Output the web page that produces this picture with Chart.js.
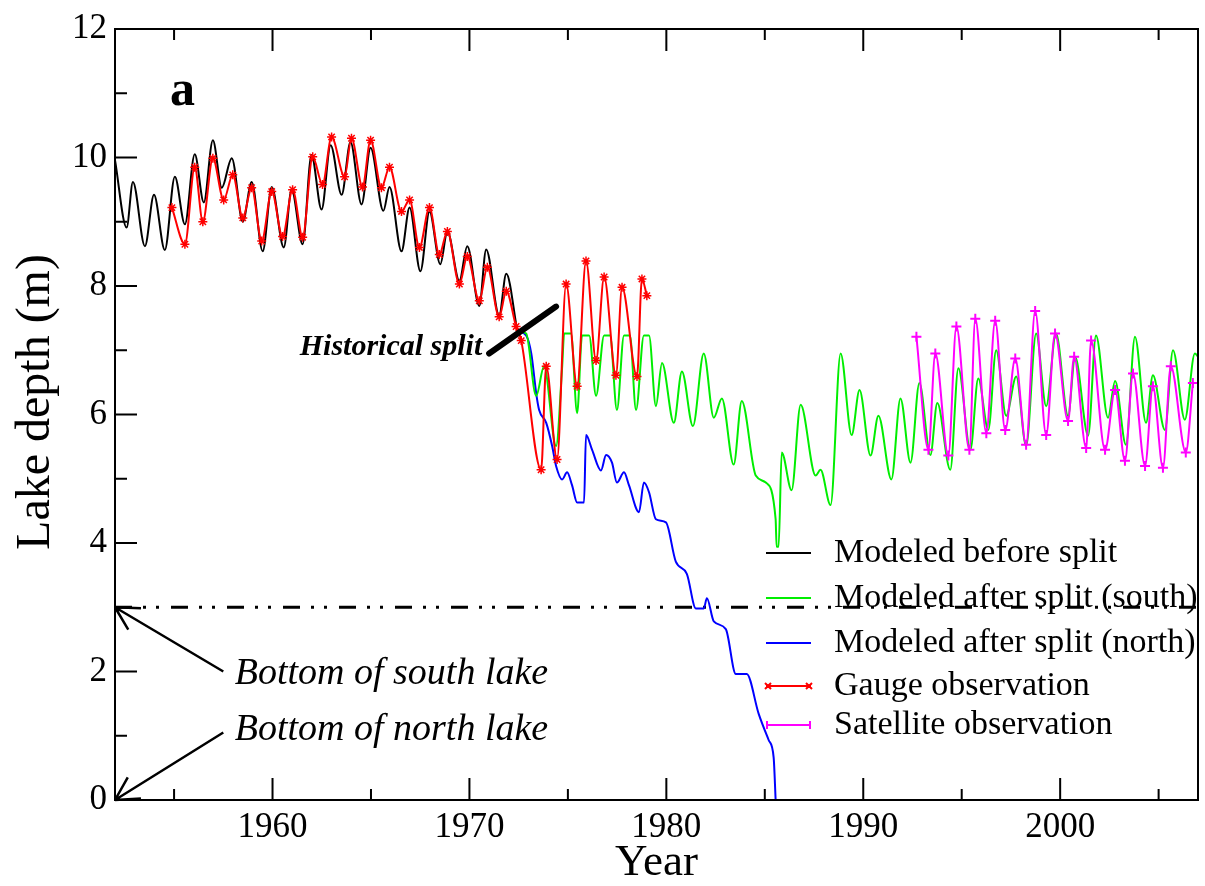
<!DOCTYPE html>
<html>
<head>
<meta charset="utf-8">
<script src="https://cdn.jsdelivr.net/npm/chart.js@4.4.1/dist/chart.umd.min.js"></script>
<style>
  html, body { margin: 0; padding: 0; background: #fff; }
</style>
</head>
<body>
<canvas id="lakeChart" width="1205" height="886"></canvas>
<script>
// axis ticks
const xTicks = [1960, 1970, 1980, 1990, 2000];
const xMinorTicks = [1955, 1965, 1975, 1985, 1995, 2005];
const yTicks = [0, 2, 4, 6, 8, 10, 12];
const yMinorTicks = [1, 3, 5, 7, 9, 11];

const seriesNames = ["Modeled before split", "Modeled after split (south)", "Modeled after split (north)",
                     "Gauge observation", "Satellite observation"];

// modeled before split (black)
const beforeYears = [1952.00, 1952.59, 1952.91, 1953.52, 1953.98, 1954.53, 1955.04, 1955.55, 1956.05, 1956.51,
  1956.97, 1957.42, 1957.93, 1958.49, 1958.94, 1959.50, 1959.96, 1960.57, 1960.97, 1961.53, 1961.98, 1962.49,
  1962.95, 1963.51, 1963.96, 1964.52, 1964.98, 1965.63, 1965.94, 1966.55, 1966.96, 1967.51, 1967.97, 1968.52,
  1968.88, 1969.49, 1969.89, 1970.50, 1970.85, 1971.51, 1971.87, 1972.43];
const beforeDepth = [9.96, 8.91, 9.62, 8.62, 9.42, 8.56, 9.70, 8.96, 10.05, 9.30,
  10.27, 9.53, 9.99, 9.00, 9.62, 8.54, 9.54, 8.60, 9.50, 8.65, 10.04, 9.19,
  10.19, 9.42, 10.24, 9.27, 10.15, 9.17, 9.54, 8.54, 9.22, 8.23, 9.16, 8.34,
  8.85, 8.08, 8.62, 7.69, 8.57, 7.54, 8.19, 7.30];

// modeled after split, south lake (green)
const southYears = [1972.43, 1972.88, 1973.39, 1973.79, 1974.40, 1974.71, 1974.81, 1975.16, 1975.47, 1975.72,
  1976.08, 1976.43, 1976.84, 1977.14, 1977.49, 1977.85, 1978.15, 1978.46, 1978.86, 1979.12, 1979.47, 1979.78,
  1980.38, 1980.79, 1981.35, 1981.90, 1982.41, 1982.82, 1983.42, 1983.83, 1984.54, 1985.05, 1985.55, 1985.60,
  1985.70, 1985.86, 1986.36, 1986.82, 1987.58, 1987.83, 1988.34, 1988.85, 1989.41, 1989.81, 1990.37, 1990.77,
  1991.43, 1991.89, 1992.40, 1992.85, 1993.41, 1993.76, 1994.42, 1994.83, 1995.44, 1995.84, 1996.35, 1996.75,
  1997.26, 1997.77, 1998.27, 1998.78, 1999.29, 1999.79, 2000.40, 2000.76, 2001.42, 2001.82, 2002.43, 2002.79,
  2003.34, 2003.80, 2004.36, 2004.71, 2005.32, 2005.73, 2006.33, 2006.84, 2007.00];
const southDepth = [7.30, 7.26, 6.29, 6.75, 5.51, 6.75, 7.26, 7.26, 6.02, 7.23,
  7.23, 6.29, 7.23, 7.23, 6.07, 7.23, 7.23, 6.07, 7.23, 7.23, 6.13, 6.80,
  5.87, 6.67, 5.82, 6.95, 5.95, 6.25, 5.22, 6.21, 5.05, 4.94, 4.37, 3.94,
  3.94, 5.41, 4.82, 6.15, 5.05, 5.14, 4.59, 6.95, 5.68, 6.38, 5.36, 5.98,
  4.99, 6.25, 5.25, 6.49, 5.37, 6.18, 5.14, 6.72, 5.45, 6.56, 5.76, 7.00,
  5.98, 6.59, 5.51, 7.26, 6.13, 7.26, 5.98, 6.90, 5.67, 7.23, 5.95, 6.52,
  5.53, 7.21, 5.87, 6.61, 5.76, 7.00, 5.92, 6.95, 6.90];

// modeled after split, north lake (blue)
const northYears = [1972.43, 1972.88, 1973.14, 1973.39, 1973.54, 1973.90, 1974.20, 1974.40, 1974.71, 1974.96,
  1975.21, 1975.47, 1975.82, 1975.92, 1976.23, 1976.68, 1976.94, 1977.24, 1977.49, 1977.85, 1978.10, 1978.61,
  1978.86, 1979.12, 1979.47, 1979.98, 1980.48, 1981.04, 1981.50, 1981.90, 1982.06, 1982.41, 1983.02, 1983.53,
  1984.08, 1984.69, 1985.20, 1985.45, 1985.55];
const northDepth = [7.30, 7.23, 6.95, 6.33, 6.07, 5.87, 5.51, 5.20, 4.99, 5.10,
  4.90, 4.63, 4.63, 5.68, 5.45, 5.13, 5.37, 5.25, 4.94, 5.10, 4.90, 4.48,
  4.94, 4.79, 4.37, 4.32, 3.71, 3.52, 2.98, 2.98, 3.14, 2.78, 2.66, 1.96,
  1.96, 1.34, 0.93, 0.66, 0.00];

// gauge observation (red)
const gaugeYears = [1954.89, 1955.55, 1956.05, 1956.46, 1956.97, 1957.52, 1957.98, 1958.49, 1958.94, 1959.45,
  1959.96, 1960.51, 1961.02, 1961.53, 1962.04, 1962.54, 1963.00, 1963.66, 1964.01, 1964.57, 1964.98, 1965.53,
  1965.94, 1966.55, 1966.96, 1967.46, 1967.97, 1968.47, 1968.88, 1969.49, 1969.89, 1970.50, 1970.91, 1971.51,
  1971.87, 1972.37, 1972.63, 1973.64, 1973.90, 1974.45, 1974.91, 1975.47, 1975.92, 1976.43, 1976.84, 1977.44,
  1977.75, 1978.51, 1978.76, 1979.01];
const gaugeDepth = [9.22, 8.65, 9.85, 9.00, 9.99, 9.34, 9.73, 9.06, 9.53, 8.70,
  9.47, 8.77, 9.50, 8.76, 10.01, 9.58, 10.32, 9.70, 10.30, 9.54, 10.27, 9.53,
  9.85, 9.16, 9.34, 8.60, 9.22, 8.49, 8.85, 8.03, 8.46, 7.77, 8.29, 7.52,
  7.92, 7.37, 7.15, 5.14, 6.75, 5.30, 8.03, 6.44, 8.39, 6.84, 8.14, 6.61,
  7.98, 6.59, 8.11, 7.85];

// satellite observation (magenta)
const satYears = [1992.70, 1993.31, 1993.66, 1994.32, 1994.73, 1995.39, 1995.69, 1996.25, 1996.70, 1997.21,
  1997.72, 1998.27, 1998.73, 1999.29, 1999.74, 2000.40, 2000.71, 2001.32, 2001.57, 2002.28, 2002.79, 2003.29,
  2003.70, 2004.31, 2004.71, 2005.22, 2005.62, 2006.38, 2006.74];
const satDepth = [7.21, 5.45, 6.95, 5.36, 7.37, 5.45, 7.49, 5.71, 7.46, 5.76,
  6.87, 5.53, 7.61, 5.68, 7.26, 5.90, 6.90, 5.48, 7.15, 5.45, 6.38, 5.28,
  6.64, 5.20, 6.44, 5.17, 6.75, 5.41, 6.49];

// bottom of south lake reference level
const bottomSouthYears = [1952, 2007];
const bottomSouthDepth = [3, 3];

const zip = (xs, ys) => xs.map((x, i) => ({ x: x, y: ys[i] }));

const serif = '"Liberation Serif", "Times New Roman", serif';
const colors = ['#000000', '#00ee00', '#0000ff', '#ff0000', '#ff00ff'];

// draws frame, inward ticks, annotations and the legend
const decorPlugin = {
  id: 'decor',
  afterDraw(chart) {
    const { ctx, chartArea: a, scales: { x, y } } = chart;
    ctx.save();
    ctx.strokeStyle = '#000';
    ctx.lineWidth = 2;
    ctx.strokeRect(a.left, a.top, a.right - a.left, a.bottom - a.top);

    ctx.beginPath();
    xTicks.forEach(v => {
      const px = x.getPixelForValue(v);
      ctx.moveTo(px, a.bottom); ctx.lineTo(px, a.bottom - 22);
      ctx.moveTo(px, a.top); ctx.lineTo(px, a.top + 22);
    });
    xMinorTicks.forEach(v => {
      const px = x.getPixelForValue(v);
      ctx.moveTo(px, a.bottom); ctx.lineTo(px, a.bottom - 11);
      ctx.moveTo(px, a.top); ctx.lineTo(px, a.top + 11);
    });
    yTicks.forEach(v => {
      const py = y.getPixelForValue(v);
      ctx.moveTo(a.left, py); ctx.lineTo(a.left + 22, py);
    });
    yMinorTicks.forEach(v => {
      const py = y.getPixelForValue(v);
      ctx.moveTo(a.left, py); ctx.lineTo(a.left + 12, py);
    });
    ctx.stroke();

    // y axis title
    ctx.save();
    ctx.translate(36, 402);
    ctx.rotate(-Math.PI / 2);
    ctx.font = '48px ' + serif;
    ctx.fillStyle = '#000';
    ctx.textAlign = 'center';
    ctx.textBaseline = 'middle';
    ctx.fillText('Lake depth (m)', 0, 0);
    ctx.restore();

    // arrows pointing at the lake bottoms
    const arrow = (x0, y0, x1, y1) => {
      const tx = x.getPixelForValue(x0), ty = y.getPixelForValue(y0);
      const hx = x.getPixelForValue(x1), hy = y.getPixelForValue(y1);
      ctx.lineWidth = 2.5;
      ctx.beginPath();
      ctx.moveTo(tx, ty); ctx.lineTo(hx, hy);
      const ang = Math.atan2(ty - hy, tx - hx);
      [-0.5, 0.5].forEach(d => {
        ctx.moveTo(hx, hy);
        ctx.lineTo(hx + 26 * Math.cos(ang + d), hy + 26 * Math.sin(ang + d));
      });
      ctx.stroke();
    };
    arrow(1957.5, 2.0, 1952, 3);
    arrow(1957.5, 1.05, 1952, 0);

    ctx.fillStyle = '#000';
    ctx.textBaseline = 'alphabetic';
    ctx.font = 'italic 38px ' + serif;
    ctx.textAlign = 'left';
    ctx.fillText('Bottom of south lake', x.getPixelForValue(1958.08), y.getPixelForValue(1.81));
    ctx.fillText('Bottom of north lake', x.getPixelForValue(1958.08), y.getPixelForValue(0.93));

    // historical split marker
    ctx.lineWidth = 6;
    ctx.lineCap = 'round';
    ctx.beginPath();
    ctx.moveTo(x.getPixelForValue(1971.0), y.getPixelForValue(6.95));
    ctx.lineTo(x.getPixelForValue(1974.4), y.getPixelForValue(7.68));
    ctx.stroke();
    ctx.lineCap = 'butt';
    ctx.font = 'italic bold 30px ' + serif;
    ctx.textAlign = 'right';
    ctx.fillText('Historical split', x.getPixelForValue(1970.65), y.getPixelForValue(6.92));

    ctx.font = 'bold 50px ' + serif;
    ctx.textAlign = 'left';
    ctx.fillText('a', x.getPixelForValue(1954.79), y.getPixelForValue(10.81));

    // legend
    const rowY = [553, 598, 643, 686, 725];
    const lx0 = a.right - 432, lx1 = a.right - 387, tx = a.right - 364;
    ctx.font = '34px ' + serif;
    ctx.textBaseline = 'middle';
    seriesNames.forEach((name, i) => {
      const ry = rowY[i];
      ctx.strokeStyle = colors[i];
      ctx.lineWidth = 2;
      ctx.beginPath();
      ctx.moveTo(lx0, ry); ctx.lineTo(lx1, ry);
      if (i === 3) {
        [lx0 + 2, lx1 - 2].forEach(cx => {
          ctx.moveTo(cx - 3, ry - 3); ctx.lineTo(cx + 3, ry + 3);
          ctx.moveTo(cx - 3, ry + 3); ctx.lineTo(cx + 3, ry - 3);
        });
      }
      if (i === 4) {
        [lx0 + 1, lx1 - 1].forEach(cx => {
          ctx.moveTo(cx, ry - 4); ctx.lineTo(cx, ry + 4);
        });
      }
      ctx.stroke();
      ctx.fillStyle = '#000';
      ctx.fillText(name, tx, ry);
    });
    ctx.restore();
  }
};

const lineStyle = { cubicInterpolationMode: 'monotone', borderWidth: 2 };

new Chart(document.getElementById('lakeChart'), {
  type: 'line',
  data: {
    datasets: [
      { label: 'bottom', data: zip(bottomSouthYears, bottomSouthDepth), borderColor: '#000', borderWidth: 3,
        borderDash: [17, 11, 3, 10, 3, 12], pointRadius: 0, order: 5 },
      { ...lineStyle, label: seriesNames[0], data: zip(beforeYears, beforeDepth), borderColor: colors[0],
        pointRadius: 0, order: 3 },
      { ...lineStyle, label: seriesNames[1], data: zip(southYears, southDepth), borderColor: colors[1],
        pointRadius: 0, order: 3 },
      { ...lineStyle, label: seriesNames[2], data: zip(northYears, northDepth), borderColor: colors[2],
        pointRadius: 0, order: 3 },
      { ...lineStyle, label: seriesNames[3], data: zip(gaugeYears, gaugeDepth), borderColor: colors[3],
        pointStyle: 'star', pointRadius: 4.5, pointBorderColor: colors[3], pointBorderWidth: 1.5, order: 1 },
      { ...lineStyle, label: seriesNames[4], data: zip(satYears, satDepth), borderColor: colors[4],
        pointStyle: 'cross', pointRadius: 5, pointBorderColor: colors[4], pointBorderWidth: 2, order: 1 }
    ]
  },
  options: {
    responsive: false,
    animation: false,
    layout: { padding: { top: 23, right: 6, left: 0, bottom: 0 } },
    plugins: { legend: { display: false }, tooltip: { enabled: false } },
    scales: {
      x: {
        type: 'linear', min: 1952, max: 2007,
        afterFit: s => { s.height = 86; },
        afterBuildTicks: s => { s.ticks = xTicks.map(v => ({ value: v })); },
        grid: { display: false, drawTicks: false },
        border: { display: false },
        ticks: { padding: 7, color: '#000', font: { family: serif, size: 35 }, callback: v => String(v) },
        title: { display: true, text: 'Year', color: '#000', font: { family: serif, size: 45, lineHeight: 1 },
                 padding: { top: 0, bottom: 0 } }
      },
      y: {
        min: 0, max: 12,
        afterFit: s => { s.width = 115; },
        afterBuildTicks: s => { s.ticks = yTicks.map(v => ({ value: v })); },
        grid: { display: false, drawTicks: false },
        border: { display: false },
        ticks: { padding: 8, color: '#000', font: { family: serif, size: 35 }, callback: v => String(v) },
        title: { display: false }
      }
    }
  },
  plugins: [decorPlugin]
});
</script>
</body>
</html>
